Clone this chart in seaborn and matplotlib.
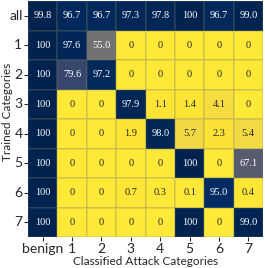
import seaborn as sns
import matplotlib.pyplot as plt
import numpy as np
import pandas as pd

row_labels = ['all', '1', '2', '3', '4', '5', '6', '7']
col_labels = ['benign', '1', '2', '3', '4', '5', '6', '7']

row_all = [99.8, 96.7, 96.7, 97.3, 97.8, 100, 96.7, 99.0]
row_1 = [100, 97.6, 55.0, 0, 0, 0, 0, 0]
row_2 = [100, 79.6, 97.2, 0, 0, 0, 0, 0]
row_3 = [100, 0, 0, 97.9, 1.1, 1.4, 4.1, 0]
row_4 = [100, 0, 0, 1.9, 98.0, 5.7, 2.3, 5.4]
row_5 = [100, 0, 0, 0, 0, 100, 0, 67.1]
row_6 = [100, 0, 0, 0.7, 0.3, 0.1, 95.0, 0.4]
row_7 = [100, 0, 0, 0, 0, 100, 0, 99.0]

data = pd.DataFrame([row_all, row_1, row_2, row_3, row_4, row_5, row_6, row_7],
                    index=row_labels, columns=col_labels)


def fmt(v):
    if v == 100 or v == 0:
        return f'{v:.0f}'
    return f'{v:.1f}'


annot = data.map(fmt)

sns.set_style('ticks')
plt.rcParams['font.family'] = ['Lato', 'DejaVu Sans']

fig = plt.figure(figsize=(2.65, 2.68), dpi=100)
ax = fig.add_axes([28 / 265, 31 / 268, 235 / 265, 236 / 268])
sns.heatmap(data, annot=annot, fmt='', cmap='cividis_r', vmin=0, vmax=100,
            cbar=False, linewidths=0.2, linecolor=(0.5, 0.5, 0.4, 0.2),
            annot_kws={'fontsize': 7.5, 'family': 'Liberation Serif'}, ax=ax)

ax.set_xlabel('Classified Attack Categories', fontsize=8.5, labelpad=1)
ax.set_ylabel('Trained Categories', fontsize=8.5)
ax.yaxis.set_label_coords(-0.064, 0.53)
ax.tick_params(axis='both', labelsize=10, length=3, width=0.8, pad=1)
plt.yticks(rotation=0)
plt.xticks(rotation=0)

fig.savefig('out.png', dpi=100)
